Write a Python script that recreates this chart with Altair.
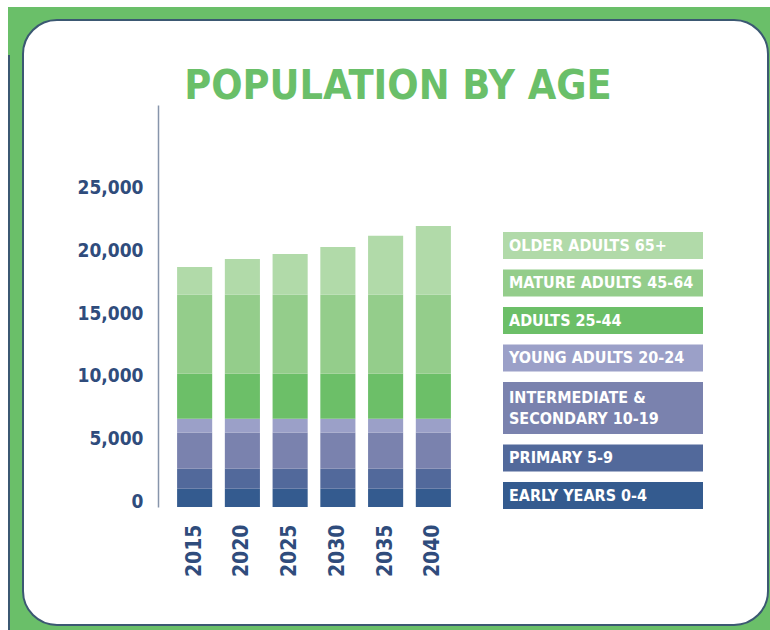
import altair as alt
import pandas as pd

# ---- data ----
years = ["2015", "2020", "2025", "2030", "2035", "2040"]
groups = ["EARLY YEARS 0-4", "PRIMARY 5-9", "INTERMEDIATE &\nSECONDARY 10-19",
          "YOUNG ADULTS 20-24", "ADULTS 25-44", "MATURE ADULTS 45-64", "OLDER ADULTS 65+"]
early = [1450, 1450, 1450, 1450, 1450, 1450]
primary = [1600, 1600, 1600, 1600, 1600, 1600]
intermediate = [2900, 2900, 2900, 2900, 2900, 2900]
young = [1100, 1100, 1100, 1100, 1100, 1100]
adults = [3600, 3600, 3600, 3600, 3600, 3600]
mature = [6300, 6300, 6300, 6300, 6300, 6300]
older = [2220, 2860, 3260, 3820, 4700, 5490]
colors = ["#345b8f", "#52699b", "#7a82ae", "#9ba0c8", "#6cbf68", "#94cd8b", "#b1daa9"]
y_ticks = [0, 5000, 10000, 15000, 20000, 25000]
title_text = "POPULATION BY AGE"

series = [early, primary, intermediate, young, adults, mature, older]

rows = []
for gi, (g, vals) in enumerate(zip(groups, series)):
    for y, v in zip(years, vals):
        rows.append({"year": y, "group": g, "value": v, "idx": gi})
df = pd.DataFrame(rows)

FONT = "DejaVu Sans Condensed, sans-serif"
NAVY = "#2f4c7c"
GREEN = "#6abf69"

PW, PH = 312, 402
one = pd.DataFrame({"t": [title_text]})

green_bg = alt.Chart(one).mark_rect(color=GREEN).encode(
    x=alt.value(-150), x2=alt.value(612), y=alt.value(-98), y2=alt.value(525))
edge = alt.Chart(one).mark_rule(color="#3b5872", strokeWidth=2).encode(
    x=alt.value(-149), y=alt.value(-50), y2=alt.value(525))
card = alt.Chart(one).mark_rect(fill="white", stroke="#3b5872", strokeWidth=2, cornerRadius=34).encode(
    x=alt.value(-135), x2=alt.value(610), y=alt.value(-85), y2=alt.value(520))
title = alt.Chart(one).mark_text(font=FONT, fontWeight="bold", fontSize=41, color=GREEN,
                                 align="center", baseline="alphabetic").encode(
    x=alt.value(240), y=alt.value(-6), text="t:N")

bars = alt.Chart(df).mark_bar().encode(
    x=alt.X("year:N", sort=years, title=None,
            scale=alt.Scale(paddingInner=0.265, paddingOuter=0.4),
            axis=alt.Axis(labelAngle=-90, labelPadding=17, ticks=False, domain=False,
                          labelFont=FONT, labelFontWeight="bold", labelFontSize=21,
                          labelColor=NAVY, labelAlign="right", labelBaseline="middle", zindex=1)),
    y=alt.Y("value:Q", stack="zero", title=None,
            scale=alt.Scale(domain=[0, 32100], nice=False, zero=True),
            axis=alt.Axis(values=y_ticks, format=",d", grid=False, ticks=False,
                          domainColor="#8795ab", domainWidth=1.5,
                          labelFont=FONT, labelFontWeight="bold", labelFontSize=19,
                          labelColor=NAVY, labelPadding=15, labelBaseline="alphabetic", zindex=1)),
    color=alt.Color("group:N", scale=alt.Scale(domain=groups, range=colors), legend=None),
    order=alt.Order("idx:Q", sort="ascending"),
)

left = alt.layer(green_bg, edge, card, title, bars).properties(width=PW, height=PH)

# ---- legend as labelled boxes ----
box_h, line_extra, gap, start, lh = 27, 25, 10.5, 127, 21
leg_rows = []
pos = start
for gi in range(len(groups) - 1, -1, -1):
    g = groups[gi]
    n = g.count("\n") + 1
    h = box_h + (n - 1) * line_extra
    leg_rows.append({"group": g, "y0": pos, "y1": pos + h,
                     "ym": pos + h / 2 - (n - 1) * lh / 2})
    pos += h + gap
leg = pd.DataFrame(leg_rows)
yscale = alt.Scale(domain=[0, PH], reverse=True, nice=False, zero=False)

leg_boxes = alt.Chart(leg).mark_rect().encode(
    x=alt.value(0), x2=alt.value(200),
    y=alt.Y("y0:Q", scale=yscale, axis=None), y2="y1:Q",
    color=alt.Color("group:N", scale=alt.Scale(domain=groups, range=colors), legend=None),
)
leg_text = alt.Chart(leg).mark_text(font=FONT, fontWeight="bold", fontSize=16, color="white",
                                    align="left", baseline="middle", lineBreak="\n",
                                    lineHeight=lh).encode(
    x=alt.value(6), y=alt.Y("ym:Q", scale=yscale, axis=None), text="group:N")
right = alt.layer(leg_boxes, leg_text).properties(width=200, height=PH)

chart = alt.hconcat(left, right, spacing=33, bounds="flush").properties(
    padding={"left": 8, "top": 7, "right": 0, "bottom": 0},
    background="white",
).configure_view(stroke=None)

chart.save("out.html", embed_options={"renderer": "svg", "actions": False})
